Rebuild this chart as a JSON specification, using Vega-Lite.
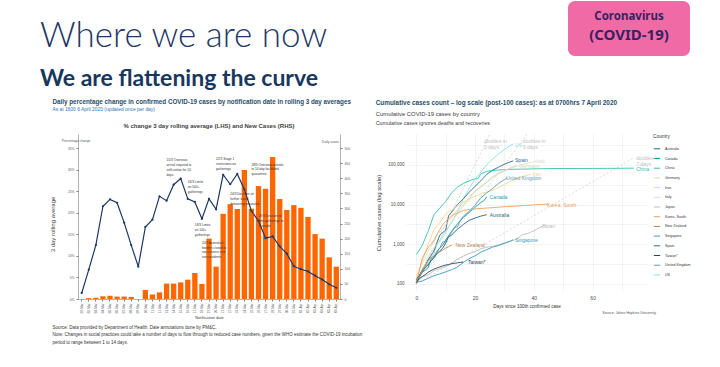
{
  "$schema": "https://vega.github.io/schema/vega-lite/v6.json",
  "padding": {"left": 40, "top": 0, "right": 0, "bottom": 0},
  "background": "white",
  "spacing": 7,
  "resolve": {"scale": {"color": "independent"}, "legend": {"color": "independent"}},
  "config": {
    "font": "Liberation Sans",
    "view": {"stroke": null},
    "axis": {"grid": false, "labelFont": "Liberation Sans", "titleFont": "Liberation Sans"},
    "title": {"font": "Liberation Sans", "subtitleFont": "Liberation Sans"},
    "legend": {"labelFont": "Liberation Sans", "titleFont": "Liberation Sans"}
  },
  "vconcat": [
    {
      "hconcat": [
        {
          "width": 462,
          "height": 10,
          "data": {"values": [{"t": ""}]},
          "mark": {"type": "text"},
          "encoding": {"text": {"field": "t"}},
          "title": {
            "text": "Where we are now",
            "subtitle": "We are flattening the curve",
            "orient": "bottom",
            "anchor": "start",
            "dx": -38,
            "font": "Lato",
            "fontSize": 35,
            "fontWeight": 300,
            "color": "#1f3864",
            "subtitleFont": "Lato",
            "subtitleFontSize": 23,
            "subtitleFontWeight": "bold",
            "subtitleColor": "#17375e",
            "subtitlePadding": 14,
            "offset": 8
          }
        },
        {
          "width": 122,
          "height": 55,
          "view": {"fill": "#f06aa6", "stroke": null, "cornerRadius": 7},
          "data": {"values": [{"line": "a", "t": "Coronavirus"}, {"line": "b", "t": "(COVID-19)"}]},
          "encoding": {
            "y": {"field": "line", "type": "ordinal", "axis": null, "scale": {"padding": 1.2, "align": 0.44}},
            "text": {"field": "t"}
          },
          "layer": [
            {"transform": [{"filter": "datum.line == 'a'"}], "mark": {"type": "text", "font": "Noto Sans", "fontSize": 11.5, "fontWeight": "bold", "color": "#3b1f63"}},
            {"transform": [{"filter": "datum.line == 'b'"}], "mark": {"type": "text", "font": "Noto Sans", "fontSize": 15, "fontWeight": "bold", "color": "#3b1f63"}}
          ]
        }
      ],
      "spacing": 28
    },
    {
      "resolve": {"scale": {"color": "independent"}, "legend": {"color": "independent"}},
      "hconcat": [
        {
          "vconcat": [
            {
              "vconcat": [
                {
                  "width": 262,
                  "height": 165,
                  "title": {"text": "% change 3 day rolling average (LHS) and New Cases (RHS)", "anchor": "middle", "fontSize": 6, "fontWeight": 600, "color": "#404040", "offset": 5},
                  "data": {"values": [
                    {"date": "01-Mar", "pct": 1.4, "cases": 0},
                    {"date": "02-Mar", "pct": 6.8, "cases": 3},
                    {"date": "03-Mar", "pct": 12.5, "cases": 4},
                    {"date": "04-Mar", "pct": 21.5, "cases": 9},
                    {"date": "05-Mar", "pct": 23.1, "cases": 11},
                    {"date": "06-Mar", "pct": 22.3, "cases": 8},
                    {"date": "07-Mar", "pct": 17.7, "cases": 8},
                    {"date": "08-Mar", "pct": 12.5, "cases": 7},
                    {"date": "09-Mar", "pct": 7.5, "cases": 0},
                    {"date": "10-Mar", "pct": 16.7, "cases": 30},
                    {"date": "11-Mar", "pct": 18.4, "cases": 15},
                    {"date": "12-Mar", "pct": 23.8, "cases": 22},
                    {"date": "13-Mar", "pct": 22.8, "cases": 51, "note": "15/3 Overseas\narrival required to\nself-isolate for 14\ndays", "ny": 32.6},
                    {"date": "14-Mar", "pct": 26.5, "cases": 51},
                    {"date": "15-Mar", "pct": 27.9, "cases": 55},
                    {"date": "16-Mar", "pct": 23.2, "cases": 64, "note": "16/3 Limits\non 500+\ngatherings", "ny": 27.6},
                    {"date": "17-Mar", "pct": 22.5, "cases": 86, "note": "18/3 Limits\non 100+\ngatherings", "ny": 17.6},
                    {"date": "18-Mar", "pct": 18.6, "cases": 50, "note": "20/3 Australia's\nborders closed to\nnon-citizens and\nnon-residents", "ny": 13.5},
                    {"date": "19-Mar", "pct": 23.2, "cases": 200},
                    {"date": "20-Mar", "pct": 20.8, "cases": 107, "note": "22/3 Stage 1\nrestrictions on\ngatherings", "ny": 32.9},
                    {"date": "21-Mar", "pct": 28.8, "cases": 282},
                    {"date": "22-Mar", "pct": 26.6, "cases": 314, "note": "24/3 Decision on\nfurther social\ndistancing measures", "ny": 24.8},
                    {"date": "23-Mar", "pct": 29.0, "cases": 298},
                    {"date": "24-Mar", "pct": 25.4, "cases": 427},
                    {"date": "25-Mar", "pct": 20.4, "cases": 299, "note": "28/3 Overseas arrivals\nto 14 day facilitated\nquarantine", "ny": 31.6},
                    {"date": "26-Mar", "pct": 18.1, "cases": 374, "note": "29/3 Decision to\nlimit gatherings to\n2 people", "ny": 19.7},
                    {"date": "27-Mar", "pct": 14.1, "cases": 365},
                    {"date": "28-Mar", "pct": 14.5, "cases": 470},
                    {"date": "29-Mar", "pct": 12.2, "cases": 331},
                    {"date": "30-Mar", "pct": 10.5, "cases": 295},
                    {"date": "31-Mar", "pct": 7.6, "cases": 311},
                    {"date": "01-Apr", "pct": 6.9, "cases": 302},
                    {"date": "02-Apr", "pct": 6.4, "cases": 272},
                    {"date": "03-Apr", "pct": 5.4, "cases": 215},
                    {"date": "04-Apr", "pct": 4.5, "cases": 200},
                    {"date": "05-Apr", "pct": 3.4, "cases": 138},
                    {"date": "06-Apr", "pct": 2.6, "cases": 107}
                  ]},
                  "encoding": {
                    "x": {
                      "field": "date", "type": "ordinal", "sort": null,
                      "scale": {"paddingInner": 0.25, "paddingOuter": 0.15},
                      "axis": {"title": "Notification date", "labelAngle": -90, "labelFontSize": 3.1, "labelColor": "#595959", "tickSize": 2, "tickColor": "#7f7f7f", "domainColor": "#7f7f7f", "domainWidth": 0.6, "titleFontSize": 4, "titleFontWeight": "normal", "titleColor": "#404040", "titlePadding": 3, "labelPadding": 2}
                    }
                  },
                  "layer": [
                    {
                      "mark": {"type": "bar", "color": "#ff6600"},
                      "encoding": {
                        "y": {"field": "cases", "type": "quantitative", "scale": {"domain": [0, 546.4], "nice": false},
                          "axis": {"orient": "right", "values": [0, 50, 100, 150, 200, 250, 300, 350, 400, 450, 500], "labelFontSize": 3.3, "labelColor": "#595959", "tickSize": 2, "tickColor": "#7f7f7f", "domainColor": "#7f7f7f", "domainWidth": 0.6, "title": "Daily cases", "titleAngle": 0, "titleFontSize": 3.3, "titleFontWeight": "normal", "titleColor": "#595959", "titleX": -10, "titleY": 7, "titleAlign": "center", "titleBaseline": "middle", "labelPadding": 2}}
                      }
                    },
                    {
                      "layer": [
                        {
                          "mark": {"type": "line", "color": "#1f3864", "strokeWidth": 1.2, "point": {"filled": true, "size": 5, "color": "#1f3864"}},
                          "encoding": {
                            "y": {"field": "pct", "type": "quantitative", "scale": {"domain": [0, 38.25], "nice": false},
                              "axis": {"orient": "left", "values": [0, 5, 10, 15, 20, 25, 30, 35], "labelExpr": "datum.value + '%'", "labelFontSize": 3.3, "labelColor": "#595959", "tickSize": 2, "tickColor": "#7f7f7f", "domainColor": "#7f7f7f", "domainWidth": 0.6, "title": "3 day rolling average", "titleFontSize": 6, "titleFontWeight": "normal", "titleColor": "#404040", "titlePadding": 12, "titleY": 90, "labelPadding": 2}}
                          }
                        },
                        {
                          "transform": [{"filter": "isValid(datum.note)"}],
                          "mark": {"type": "text", "align": "left", "baseline": "top", "fontSize": 3.2, "lineHeight": 4.8, "lineBreak": "\n", "color": "#333333"},
                          "encoding": {
                            "y": {"field": "ny", "type": "quantitative",
                              "axis": {"orient": "left", "values": [0, 5, 10, 15, 20, 25, 30, 35], "labelExpr": "datum.value + '%'", "labelFontSize": 3.3, "labelColor": "#595959", "tickSize": 2, "tickColor": "#7f7f7f", "domainColor": "#7f7f7f", "domainWidth": 0.6, "title": "3 day rolling average", "titleFontSize": 6, "titleFontWeight": "normal", "titleColor": "#404040", "titlePadding": 12, "titleY": 90, "labelPadding": 2}},
                            "text": {"field": "note"}
                          }
                        },
                        {
                          "data": {"values": [{"date": "01-Mar", "ny": 36.6, "t": "Percentage change"}]},
                          "mark": {"type": "text", "align": "left", "baseline": "middle", "fontSize": 3.3, "dx": -20, "color": "#595959"},
                          "encoding": {
                            "y": {"field": "ny", "type": "quantitative",
                              "axis": {"orient": "left", "values": [0, 5, 10, 15, 20, 25, 30, 35], "labelExpr": "datum.value + '%'", "labelFontSize": 3.3, "labelColor": "#595959", "tickSize": 2, "tickColor": "#7f7f7f", "domainColor": "#7f7f7f", "domainWidth": 0.6, "title": "3 day rolling average", "titleFontSize": 6, "titleFontWeight": "normal", "titleColor": "#404040", "titlePadding": 12, "titleY": 90, "labelPadding": 2}},
                            "text": {"field": "t"}
                          }
                        }
                      ]
                    }
                  ],
                  "resolve": {"scale": {"y": "independent"}}
                }
              ],
              "title": {
                "text": "Daily percentage change in confirmed COVID-19 cases by notification date in rolling 3 day averages",
                "subtitle": "As at 1600 6 April 2020 (updated once per day)",
                "anchor": "start", "dx": 3, "fontSize": 6.3, "fontWeight": "bold", "color": "#1f4e6b",
                "subtitleFontSize": 4.9, "subtitleColor": "#2e75b6", "subtitlePadding": 2, "offset": 11
              }
            }
          ],
          "title": {
            "text": ["Source: Data provided by Department of Health. Date annotations done by PM&C.", "Note: Changes in social practices could take a number of days to flow through to reduced case numbers, given the WHO estimate the COVID-19 incubation", "period to range between 1 to 14 days."],
            "orient": "bottom", "anchor": "start", "dx": 3, "fontSize": 4.5, "fontWeight": "normal", "color": "#333333", "lineHeight": 7.5, "offset": 5
          }
        },
        {
          "resolve": {"scale": {"color": "independent"}, "legend": {"color": "independent"}},
          "vconcat": [
            {
              "resolve": {"scale": {"color": "independent"}, "legend": {"color": "independent"}},
              "vconcat": [
                {
                  "width": 241,
                  "height": 157,
                  "title": {
                    "text": "Cumulative COVID-19 cases by country",
                    "subtitle": "Cumulative cases ignores deaths and recoveries",
                    "anchor": "start", "fontSize": 5.9, "fontWeight": "normal", "color": "#404040",
                    "subtitleFontSize": 5.3, "subtitleColor": "#404040", "subtitlePadding": 4, "offset": 8
                  },
                  "encoding": {
                    "x": {"field": "d", "type": "quantitative", "scale": {"domain": [-3.5, 78.5], "nice": false, "zero": false},
                      "axis": {"values": [0, 10, 20, 30, 40, 50, 60, 70], "labelExpr": "datum.value % 20 == 0 ? datum.label : ''", "grid": true, "gridColor": "#ebebeb", "gridWidth": 0.6, "domain": false, "ticks": false, "labelFontSize": 5, "labelColor": "#4d4d4d", "title": "Days since 100th confirmed case", "titleFontSize": 4.6, "titleFontWeight": "normal", "titleColor": "#333333", "labelPadding": 4, "titlePadding": 3}},
                    "y": {"field": "n", "type": "quantitative", "scale": {"type": "log", "domain": [66, 600000], "nice": false},
                      "axis": {"values": [100, 316.2, 1000, 3162, 10000, 31623, 100000, 316228], "labelExpr": "(datum.value == 100 || datum.value == 1000 || datum.value == 10000 || datum.value == 100000) ? format(datum.value, ',') : ''", "grid": true, "gridColor": "#ebebeb", "gridWidth": 0.6, "domain": false, "ticks": false, "labelFontSize": 4.5, "labelColor": "#4d4d4d", "title": "Cumulative cases (log scale)", "titleFontSize": 6, "titleFontWeight": "normal", "titleColor": "#333333", "labelPadding": 2, "titlePadding": 6}}
                  },
                  "layer": [
                    {
                      "data": {"values": [
                        {"k": "2", "d": 0, "n": 100}, {"k": "2", "d": 25.1, "n": 600000},
                        {"k": "3", "d": 0, "n": 100}, {"k": "3", "d": 37.7, "n": 600000},
                        {"k": "7", "d": 0, "n": 100}, {"k": "7", "d": 74, "n": 150000}
                      ]},
                      "mark": {"type": "line", "strokeDash": [2, 2], "color": "#c8c8c8", "strokeWidth": 0.7, "clip": true},
                      "encoding": {"detail": {"field": "k"}}
                    },
                    {
                      "data": {"values": [
                        {"c": "China", "d": 0, "n": 548}, {"c": "China", "d": 2, "n": 920}, {"c": "China", "d": 4, "n": 2075}, {"c": "China", "d": 6, "n": 5509}, {"c": "China", "d": 8, "n": 8141}, {"c": "China", "d": 10, "n": 11891}, {"c": "China", "d": 12, "n": 19716}, {"c": "China", "d": 14, "n": 27440}, {"c": "China", "d": 16, "n": 34110}, {"c": "China", "d": 18, "n": 39829}, {"c": "China", "d": 20, "n": 44386}, {"c": "China", "d": 21, "n": 44759}, {"c": "China", "d": 22, "n": 59895}, {"c": "China", "d": 24, "n": 68413}, {"c": "China", "d": 26, "n": 72434}, {"c": "China", "d": 28, "n": 74619}, {"c": "China", "d": 30, "n": 75550}, {"c": "China", "d": 33, "n": 77241}, {"c": "China", "d": 38, "n": 78630}, {"c": "China", "d": 45, "n": 80651}, {"c": "China", "d": 50, "n": 80945}, {"c": "China", "d": 55, "n": 81058}, {"c": "China", "d": 60, "n": 81300}, {"c": "China", "d": 65, "n": 81620}, {"c": "China", "d": 70, "n": 82100}, {"c": "China", "d": 74, "n": 82602},
                        {"c": "US", "d": 0, "n": 118}, {"c": "US", "d": 2, "n": 217}, {"c": "US", "d": 4, "n": 402}, {"c": "US", "d": 6, "n": 583}, {"c": "US", "d": 7, "n": 959}, {"c": "US", "d": 8, "n": 1281}, {"c": "US", "d": 10, "n": 2179}, {"c": "US", "d": 12, "n": 3499}, {"c": "US", "d": 14, "n": 6421}, {"c": "US", "d": 16, "n": 13680}, {"c": "US", "d": 18, "n": 25493}, {"c": "US", "d": 20, "n": 43847}, {"c": "US", "d": 22, "n": 65778}, {"c": "US", "d": 24, "n": 101657}, {"c": "US", "d": 26, "n": 140886}, {"c": "US", "d": 28, "n": 188172}, {"c": "US", "d": 30, "n": 243453}, {"c": "US", "d": 32, "n": 308850}, {"c": "US", "d": 33, "n": 337072},
                        {"c": "Spain", "d": 0, "n": 120}, {"c": "Spain", "d": 2, "n": 222}, {"c": "Spain", "d": 4, "n": 400}, {"c": "Spain", "d": 6, "n": 673}, {"c": "Spain", "d": 7, "n": 1073}, {"c": "Spain", "d": 8, "n": 1695}, {"c": "Spain", "d": 10, "n": 2277}, {"c": "Spain", "d": 11, "n": 5232}, {"c": "Spain", "d": 12, "n": 6391}, {"c": "Spain", "d": 14, "n": 9942}, {"c": "Spain", "d": 16, "n": 13910}, {"c": "Spain", "d": 18, "n": 20410}, {"c": "Spain", "d": 20, "n": 28768}, {"c": "Spain", "d": 22, "n": 39885}, {"c": "Spain", "d": 24, "n": 57786}, {"c": "Spain", "d": 26, "n": 73235}, {"c": "Spain", "d": 28, "n": 87956}, {"c": "Spain", "d": 30, "n": 104118}, {"c": "Spain", "d": 32, "n": 119199}, {"c": "Spain", "d": 33, "n": 126168},
                        {"c": "Italy", "d": 0, "n": 155}, {"c": "Italy", "d": 2, "n": 322}, {"c": "Italy", "d": 4, "n": 655}, {"c": "Italy", "d": 6, "n": 1128}, {"c": "Italy", "d": 7, "n": 1694}, {"c": "Italy", "d": 8, "n": 2036}, {"c": "Italy", "d": 10, "n": 3089}, {"c": "Italy", "d": 12, "n": 4636}, {"c": "Italy", "d": 14, "n": 7375}, {"c": "Italy", "d": 16, "n": 10149}, {"c": "Italy", "d": 18, "n": 12462}, {"c": "Italy", "d": 19, "n": 17660}, {"c": "Italy", "d": 20, "n": 21157}, {"c": "Italy", "d": 22, "n": 27980}, {"c": "Italy", "d": 24, "n": 35713}, {"c": "Italy", "d": 26, "n": 47021}, {"c": "Italy", "d": 28, "n": 59138}, {"c": "Italy", "d": 30, "n": 69176}, {"c": "Italy", "d": 32, "n": 80589}, {"c": "Italy", "d": 34, "n": 92472}, {"c": "Italy", "d": 36, "n": 101739}, {"c": "Italy", "d": 38, "n": 110574}, {"c": "Italy", "d": 40, "n": 119827}, {"c": "Italy", "d": 41, "n": 124632},
                        {"c": "Germany", "d": 0, "n": 130}, {"c": "Germany", "d": 2, "n": 196}, {"c": "Germany", "d": 4, "n": 482}, {"c": "Germany", "d": 6, "n": 799}, {"c": "Germany", "d": 8, "n": 1176}, {"c": "Germany", "d": 10, "n": 1908}, {"c": "Germany", "d": 12, "n": 3675}, {"c": "Germany", "d": 14, "n": 5795}, {"c": "Germany", "d": 16, "n": 9257}, {"c": "Germany", "d": 18, "n": 15320}, {"c": "Germany", "d": 20, "n": 22213}, {"c": "Germany", "d": 22, "n": 29056}, {"c": "Germany", "d": 24, "n": 37323}, {"c": "Germany", "d": 26, "n": 50871}, {"c": "Germany", "d": 28, "n": 62095}, {"c": "Germany", "d": 30, "n": 71808}, {"c": "Germany", "d": 32, "n": 84794}, {"c": "Germany", "d": 34, "n": 96092},
                        {"c": "Iran", "d": 0, "n": 139}, {"c": "Iran", "d": 1, "n": 245}, {"c": "Iran", "d": 2, "n": 388}, {"c": "Iran", "d": 3, "n": 593}, {"c": "Iran", "d": 4, "n": 978}, {"c": "Iran", "d": 5, "n": 1501}, {"c": "Iran", "d": 6, "n": 2336}, {"c": "Iran", "d": 8, "n": 3513}, {"c": "Iran", "d": 10, "n": 5823}, {"c": "Iran", "d": 12, "n": 7161}, {"c": "Iran", "d": 14, "n": 9000}, {"c": "Iran", "d": 16, "n": 11364}, {"c": "Iran", "d": 18, "n": 13938}, {"c": "Iran", "d": 20, "n": 16169}, {"c": "Iran", "d": 22, "n": 18407}, {"c": "Iran", "d": 24, "n": 20610}, {"c": "Iran", "d": 26, "n": 23049}, {"c": "Iran", "d": 28, "n": 27017}, {"c": "Iran", "d": 30, "n": 32332}, {"c": "Iran", "d": 32, "n": 38309}, {"c": "Iran", "d": 34, "n": 44605}, {"c": "Iran", "d": 36, "n": 50468}, {"c": "Iran", "d": 38, "n": 55743}, {"c": "Iran", "d": 39, "n": 58226},
                        {"c": "United Kingdom", "d": 0, "n": 116}, {"c": "United Kingdom", "d": 2, "n": 207}, {"c": "United Kingdom", "d": 4, "n": 322}, {"c": "United Kingdom", "d": 6, "n": 459}, {"c": "United Kingdom", "d": 8, "n": 802}, {"c": "United Kingdom", "d": 9, "n": 1144}, {"c": "United Kingdom", "d": 10, "n": 1145}, {"c": "United Kingdom", "d": 11, "n": 1551}, {"c": "United Kingdom", "d": 12, "n": 1960}, {"c": "United Kingdom", "d": 13, "n": 2642}, {"c": "United Kingdom", "d": 14, "n": 2716}, {"c": "United Kingdom", "d": 15, "n": 4014}, {"c": "United Kingdom", "d": 16, "n": 5067}, {"c": "United Kingdom", "d": 18, "n": 6726}, {"c": "United Kingdom", "d": 20, "n": 9640}, {"c": "United Kingdom", "d": 22, "n": 14745}, {"c": "United Kingdom", "d": 24, "n": 19780}, {"c": "United Kingdom", "d": 26, "n": 25481}, {"c": "United Kingdom", "d": 28, "n": 34173}, {"c": "United Kingdom", "d": 30, "n": 42477}, {"c": "United Kingdom", "d": 31, "n": 47806},
                        {"c": "Canada", "d": 0, "n": 108}, {"c": "Canada", "d": 2, "n": 193}, {"c": "Canada", "d": 4, "n": 252}, {"c": "Canada", "d": 5, "n": 415}, {"c": "Canada", "d": 6, "n": 478}, {"c": "Canada", "d": 7, "n": 657}, {"c": "Canada", "d": 8, "n": 800}, {"c": "Canada", "d": 9, "n": 943}, {"c": "Canada", "d": 10, "n": 1277}, {"c": "Canada", "d": 12, "n": 2088}, {"c": "Canada", "d": 14, "n": 3251}, {"c": "Canada", "d": 16, "n": 4682}, {"c": "Canada", "d": 18, "n": 6280}, {"c": "Canada", "d": 20, "n": 8527}, {"c": "Canada", "d": 22, "n": 11284}, {"c": "Canada", "d": 23, "n": 12437}, {"c": "Canada", "d": 24, "n": 15756},
                        {"c": "Korea, South", "d": 0, "n": 104}, {"c": "Korea, South", "d": 1, "n": 204}, {"c": "Korea, South", "d": 2, "n": 433}, {"c": "Korea, South", "d": 3, "n": 602}, {"c": "Korea, South", "d": 4, "n": 833}, {"c": "Korea, South", "d": 5, "n": 977}, {"c": "Korea, South", "d": 6, "n": 1261}, {"c": "Korea, South", "d": 7, "n": 1766}, {"c": "Korea, South", "d": 8, "n": 2337}, {"c": "Korea, South", "d": 9, "n": 3150}, {"c": "Korea, South", "d": 10, "n": 3736}, {"c": "Korea, South", "d": 11, "n": 4335}, {"c": "Korea, South", "d": 12, "n": 5186}, {"c": "Korea, South", "d": 13, "n": 5621}, {"c": "Korea, South", "d": 14, "n": 6088}, {"c": "Korea, South", "d": 15, "n": 6593}, {"c": "Korea, South", "d": 16, "n": 7041}, {"c": "Korea, South", "d": 18, "n": 7478}, {"c": "Korea, South", "d": 20, "n": 7755}, {"c": "Korea, South", "d": 22, "n": 7979}, {"c": "Korea, South", "d": 25, "n": 8236}, {"c": "Korea, South", "d": 28, "n": 8565}, {"c": "Korea, South", "d": 31, "n": 8897}, {"c": "Korea, South", "d": 34, "n": 9137}, {"c": "Korea, South", "d": 37, "n": 9478}, {"c": "Korea, South", "d": 40, "n": 9786}, {"c": "Korea, South", "d": 43, "n": 10062}, {"c": "Korea, South", "d": 45, "n": 10237},
                        {"c": "Australia", "d": 0, "n": 128}, {"c": "Australia", "d": 2, "n": 200}, {"c": "Australia", "d": 3, "n": 250}, {"c": "Australia", "d": 4, "n": 297}, {"c": "Australia", "d": 5, "n": 377}, {"c": "Australia", "d": 6, "n": 452}, {"c": "Australia", "d": 7, "n": 568}, {"c": "Australia", "d": 8, "n": 681}, {"c": "Australia", "d": 9, "n": 791}, {"c": "Australia", "d": 10, "n": 1071}, {"c": "Australia", "d": 11, "n": 1549}, {"c": "Australia", "d": 12, "n": 1682}, {"c": "Australia", "d": 13, "n": 2044}, {"c": "Australia", "d": 14, "n": 2364}, {"c": "Australia", "d": 16, "n": 3143}, {"c": "Australia", "d": 18, "n": 3984}, {"c": "Australia", "d": 20, "n": 4559}, {"c": "Australia", "d": 22, "n": 5116}, {"c": "Australia", "d": 24, "n": 5550},
                        {"c": "Japan", "d": 0, "n": 105}, {"c": "Japan", "d": 2, "n": 147}, {"c": "Japan", "d": 4, "n": 170}, {"c": "Japan", "d": 6, "n": 214}, {"c": "Japan", "d": 8, "n": 241}, {"c": "Japan", "d": 10, "n": 274}, {"c": "Japan", "d": 12, "n": 331}, {"c": "Japan", "d": 14, "n": 420}, {"c": "Japan", "d": 16, "n": 502}, {"c": "Japan", "d": 18, "n": 581}, {"c": "Japan", "d": 20, "n": 639}, {"c": "Japan", "d": 22, "n": 773}, {"c": "Japan", "d": 24, "n": 839}, {"c": "Japan", "d": 26, "n": 878}, {"c": "Japan", "d": 28, "n": 963}, {"c": "Japan", "d": 30, "n": 1086}, {"c": "Japan", "d": 32, "n": 1193}, {"c": "Japan", "d": 34, "n": 1307}, {"c": "Japan", "d": 36, "n": 1724}, {"c": "Japan", "d": 38, "n": 1866}, {"c": "Japan", "d": 40, "n": 2178}, {"c": "Japan", "d": 42, "n": 2617}, {"c": "Japan", "d": 44, "n": 3139},
                        {"c": "Singapore", "d": 0, "n": 110}, {"c": "Singapore", "d": 2, "n": 117}, {"c": "Singapore", "d": 4, "n": 138}, {"c": "Singapore", "d": 6, "n": 160}, {"c": "Singapore", "d": 8, "n": 178}, {"c": "Singapore", "d": 10, "n": 200}, {"c": "Singapore", "d": 12, "n": 226}, {"c": "Singapore", "d": 14, "n": 266}, {"c": "Singapore", "d": 16, "n": 345}, {"c": "Singapore", "d": 18, "n": 432}, {"c": "Singapore", "d": 20, "n": 509}, {"c": "Singapore", "d": 22, "n": 631}, {"c": "Singapore", "d": 24, "n": 732}, {"c": "Singapore", "d": 26, "n": 844}, {"c": "Singapore", "d": 28, "n": 926}, {"c": "Singapore", "d": 30, "n": 1049}, {"c": "Singapore", "d": 32, "n": 1189}, {"c": "Singapore", "d": 33, "n": 1309},
                        {"c": "New Zealand", "d": 0, "n": 102}, {"c": "New Zealand", "d": 1, "n": 155}, {"c": "New Zealand", "d": 2, "n": 205}, {"c": "New Zealand", "d": 3, "n": 283}, {"c": "New Zealand", "d": 4, "n": 368}, {"c": "New Zealand", "d": 5, "n": 451}, {"c": "New Zealand", "d": 6, "n": 514}, {"c": "New Zealand", "d": 7, "n": 589}, {"c": "New Zealand", "d": 8, "n": 647}, {"c": "New Zealand", "d": 9, "n": 708}, {"c": "New Zealand", "d": 10, "n": 797}, {"c": "New Zealand", "d": 11, "n": 868}, {"c": "New Zealand", "d": 12, "n": 950},
                        {"c": "Taiwan*", "d": 0, "n": 108}, {"c": "Taiwan*", "d": 1, "n": 135}, {"c": "Taiwan*", "d": 2, "n": 153}, {"c": "Taiwan*", "d": 3, "n": 169}, {"c": "Taiwan*", "d": 4, "n": 195}, {"c": "Taiwan*", "d": 5, "n": 215}, {"c": "Taiwan*", "d": 6, "n": 235}, {"c": "Taiwan*", "d": 7, "n": 252}, {"c": "Taiwan*", "d": 8, "n": 267}, {"c": "Taiwan*", "d": 9, "n": 283}, {"c": "Taiwan*", "d": 10, "n": 298}, {"c": "Taiwan*", "d": 11, "n": 306}, {"c": "Taiwan*", "d": 12, "n": 322}, {"c": "Taiwan*", "d": 13, "n": 329}, {"c": "Taiwan*", "d": 14, "n": 339}, {"c": "Taiwan*", "d": 15, "n": 348}, {"c": "Taiwan*", "d": 16, "n": 355}
                      ]},
                      "mark": {"type": "line", "strokeWidth": 0.9, "clip": true},
                      "encoding": {
                        "color": {"field": "c", "type": "nominal",
                          "scale": {"domain": ["Australia", "Canada", "China", "Germany", "Iran", "Italy", "Japan", "Korea, South", "New Zealand", "Singapore", "Spain", "Taiwan*", "United Kingdom", "US"],
                            "range": ["#2b6a84", "#1f9ea6", "#35c2ad", "#d5dcae", "#f7d68c", "#dcdccf", "#bdbdbd", "#ef9f5f", "#b3845a", "#3a9cc4", "#2f6b98", "#2b455e", "#5e9db3", "#86e3e3"]},
                          "legend": {"title": "Country", "titleFontSize": 4.8, "titleFontWeight": "normal", "titleColor": "#333333", "labelFontSize": 3.6, "labelColor": "#333333", "symbolType": "stroke", "symbolStrokeWidth": 1, "symbolSize": 40, "rowPadding": 3.7, "offset": 6, "titlePadding": 6}}
                      }
                    },
                    {
                      "data": {"values": [
                        {"c": "US", "d": 33.6, "n": 320000},
                        {"c": "Spain", "d": 33.6, "n": 134000},
                        {"c": "Italy", "d": 40.8, "n": 126000},
                        {"c": "Germany", "d": 35, "n": 94000},
                        {"c": "Iran", "d": 39.5, "n": 59000},
                        {"c": "United Kingdom", "d": 30.5, "n": 47000},
                        {"c": "Canada", "d": 25, "n": 15600},
                        {"c": "Australia", "d": 25, "n": 5500},
                        {"c": "Korea, South", "d": 44.5, "n": 9800},
                        {"c": "Japan", "d": 42.6, "n": 2900},
                        {"c": "Singapore", "d": 33.6, "n": 1290},
                        {"c": "New Zealand", "d": 13.3, "n": 966},
                        {"c": "Taiwan*", "d": 17.6, "n": 360},
                        {"c": "China", "d": 74.8, "n": 79000}
                      ]},
                      "mark": {"type": "text", "align": "left", "baseline": "middle", "fontSize": 5},
                      "encoding": {
                        "text": {"field": "c"},
                        "color": {"field": "c", "type": "nominal",
                          "legend": {"title": "Country", "titleFontSize": 4.8, "titleFontWeight": "normal", "titleColor": "#333333", "labelFontSize": 3.6, "labelColor": "#333333", "symbolType": "stroke", "symbolStrokeWidth": 1, "symbolSize": 40, "rowPadding": 3.7, "offset": 6, "titlePadding": 6}}
                      }
                    },
                    {
                      "data": {"values": [
                        {"t": "doubles in\n2-days", "d": 23, "n": 400000},
                        {"t": "doubles in\n3-days", "d": 36.2, "n": 400000},
                        {"t": "doubles in\n7-days", "d": 74.8, "n": 150000}
                      ]},
                      "mark": {"type": "text", "align": "left", "baseline": "middle", "fontSize": 5, "lineHeight": 6.5, "lineBreak": "\n", "color": "#bdbdbd"},
                      "encoding": {"text": {"field": "t"}}
                    }
                  ]
                }
              ],
              "title": {
                "text": "Cumulative cases count \u2013 log scale (post-100 cases): as at 0700hrs 7 April 2020",
                "anchor": "start", "fontSize": 6.4, "fontWeight": "bold", "color": "#1f4e6b", "offset": 4
              }
            }
          ],
          "title": {
            "text": "Source: Johns Hopkins University",
            "orient": "bottom", "anchor": "end", "dx": -35, "fontSize": 3.6, "fontWeight": "normal", "color": "#555555", "offset": 3
          }
        }
      ],
      "spacing": 12
    }
  ]
}
